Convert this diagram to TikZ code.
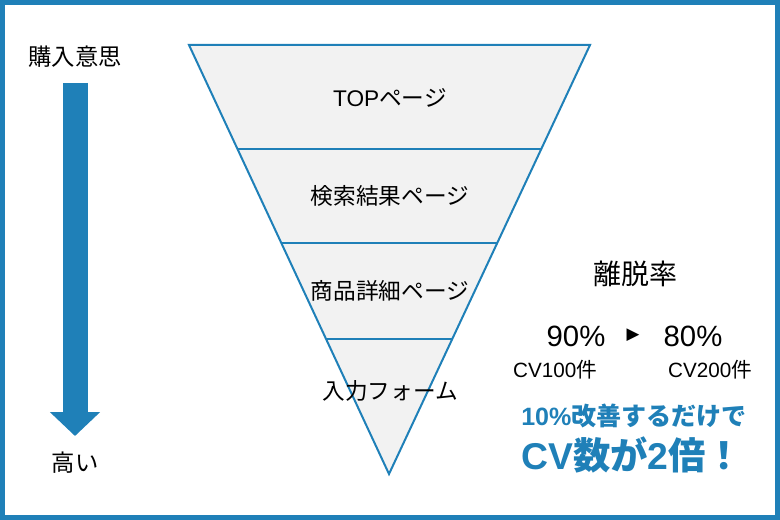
\documentclass[tikz,border=0pt]{standalone}
\usepackage{fontspec}
\setmainfont{Liberation Sans}
\newfontfamily\jp{Noto Sans CJK JP}
\newfontfamily\symb{DejaVu Sans}
\usepackage{xcolor}
\usetikzlibrary{arrows.meta,calc}
\definecolor{funnelblue}{RGB}{31,128,184}
\definecolor{funnelgray}{RGB}{242,242,242}

\begin{document}
\begin{tikzpicture}[x=0.75pt,y=-0.75pt,
  stage/.style={font=\fontsize{17}{20}\selectfont},
  side/.style={font=\fontsize{17.5}{20}\selectfont},
  rate/.style={font=\fontsize{21}{24}\selectfont},
  pct/.style={font=\fontsize{22}{26}\selectfont},
  cv/.style={font=\fontsize{15.5}{18}\selectfont},
  catch/.style={text=funnelblue,inner sep=0pt,anchor=west,font=\bfseries},
  funnel/.style={draw=funnelblue,fill=funnelgray,line width=1.5pt,line join=miter},
  level/.style={draw=funnelblue,line width=1.5pt},
  bigarrow/.style={funnelblue,line width=18.75pt,-{Triangle[width=36.75pt,length=18pt]}}
]
\useasboundingbox (0,0) rectangle (780,520);

% Frame
\draw[funnelblue,line width=3.75pt] (2.5,2.5) rectangle (777.5,517.5);

% Funnel
\coordinate (tl) at (189,45);
\coordinate (tr) at (590,45);
\coordinate (apex) at (389,474);
\draw[funnel] (tl) -- (tr) -- (apex) -- cycle;
\foreach \f in {0.2424,0.4615,0.6853} {
  \draw[level] ($(tl)!\f!(apex)$) -- ($(tr)!\f!(apex)$);
}

% Stages
\node[stage] (top)    at (390,98)  {TOP{\jp ページ}};
\node[stage] (search) at (390,196) {\jp 検索結果ページ};
\node[stage] (item)   at (390,291) {\jp 商品詳細ページ};
\node[stage] (form)   at (390,391) {\jp 入力フォーム};

% Purchase intent
\node[side] (want) at (75,57)  {\jp 購入意思};
\node[side] (high) at (75,463) {\jp 高い};
\draw[bigarrow,shorten <=19.5pt,shorten >=20.25pt] (want.center) -- (high.center);

% Exit rate
\node[rate] (ratelabel) at (635,274) {\jp 離脱率};
\node[pct] (before) at (576,336) {90\%};
\node[font=\symb\fontsize{12.5}{14}\selectfont] (tri) at (633,335) {▶};
\node[pct] (after)  at (693,336) {80\%};
\node[cv] (cvbefore) at (555,370) {CV100{\jp 件}};
\node[cv] (cvafter)  at (710,370) {CV200{\jp 件}};

% Message
\node[catch,font=\bfseries\fontsize{18.8}{22}\selectfont] (gain) at (521,416)
  {10\%{\jp\bfseries 改善するだけで}};
\node[catch,font=\bfseries\fontsize{28}{32}\selectfont] (double) at (521,455)
  {CV{\jp\bfseries 数が}2{\jp\bfseries 倍！}};

\end{tikzpicture}
\end{document}
